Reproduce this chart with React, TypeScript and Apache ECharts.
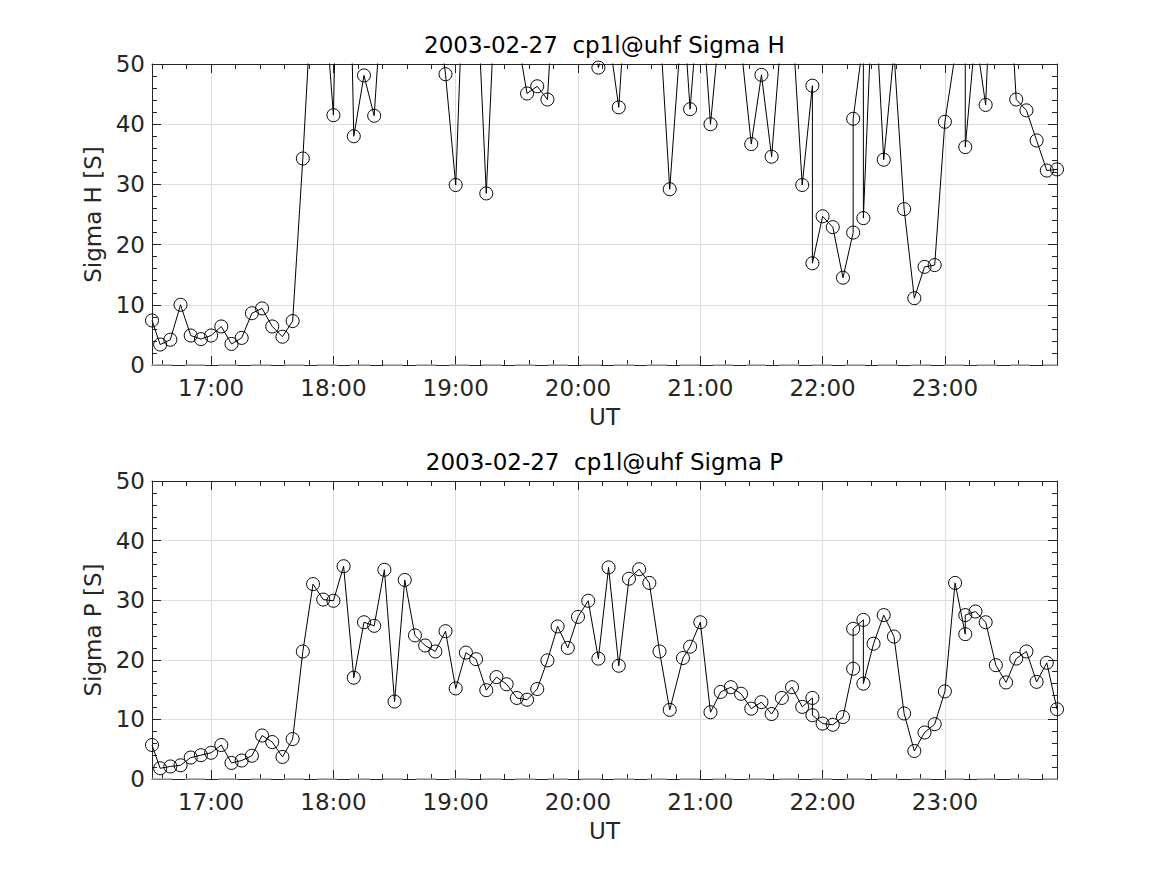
import React, { useEffect, useRef } from "react";
import * as echarts from "echarts";

// UT timestamps (duplicated stamps are repeated records)
const TIMES = [
  "16:31", "16:35", "16:40", "16:45", "16:50", "16:55", "17:00", "17:05", "17:10", "17:15",
  "17:20", "17:25", "17:30", "17:35", "17:40", "17:45", "17:50", "17:55", "18:00", "18:05",
  "18:10", "18:15", "18:20", "18:25", "18:30", "18:35", "18:40", "18:45", "18:50", "18:55",
  "19:00", "19:05", "19:10", "19:15", "19:20", "19:25", "19:30", "19:35", "19:40", "19:45",
  "19:50", "19:55", "20:00", "20:05", "20:10", "20:15", "20:20", "20:25", "20:30", "20:35",
  "20:40", "20:45", "20:51:30", "20:55", "21:00", "21:05", "21:10", "21:15", "21:20", "21:25",
  "21:30", "21:35", "21:40", "21:45", "21:50", "21:55", "21:55", "22:00", "22:05", "22:10",
  "22:15", "22:15", "22:20", "22:20", "22:25", "22:30", "22:35", "22:40", "22:45", "22:50",
  "22:55", "23:00", "23:05", "23:10", "23:10", "23:15", "23:20", "23:25", "23:30", "23:35",
  "23:40", "23:45", "23:50", "23:55",
];

const SIGMA_H = [
  7.4, 3.4, 4.2, 10.0, 4.9, 4.3, 4.9, 6.4, 3.5, 4.5,
  8.6, 9.4, 6.4, 4.7, 7.3, 34.3, 65, 64, 41.5, 120,
  38.0, 48.1, 41.4, 67, 85, 78, 95, 82, 62, 48.3,
  29.9, 76, 66, 28.5, 66, 72, 55, 45.1, 46.3, 44.1,
  74, 80, 70, 62, 49.4, 55, 42.8, 69, 75, 70,
  57.4, 29.2, 60, 42.5, 64, 40.0, 58, 62, 53, 36.7,
  48.2, 34.6, 56, 58, 29.9, 46.4, 16.9, 24.7, 22.9, 14.5,
  22.0, 40.9, 54, 24.4, 66, 34.1, 52, 25.9, 11.1, 16.3,
  16.6, 40.4, 51.5, 80, 36.2, 55, 43.2, 84, 73, 44.1,
  42.3, 37.3, 32.3, 32.5,
];

const SIGMA_P = [
  5.7, 1.8, 2.1, 2.3, 3.6, 4.0, 4.4, 5.7, 2.7, 3.1,
  3.9, 7.3, 6.2, 3.7, 6.7, 21.4, 32.7, 30.1, 29.9, 35.7,
  17.0, 26.3, 25.7, 35.1, 13.0, 33.4, 24.1, 22.4, 21.4, 24.8,
  15.2, 21.2, 20.1, 14.9, 17.1, 15.9, 13.6, 13.3, 15.1, 19.9,
  25.6, 22.0, 27.2, 29.9, 20.2, 35.5, 19.0, 33.6, 35.2, 32.9,
  21.4, 11.6, 20.3, 22.2, 26.3, 11.2, 14.6, 15.4, 14.3, 11.8,
  12.9, 10.9, 13.6, 15.4, 12.1, 13.6, 10.7, 9.3, 9.1, 10.4,
  18.5, 25.2, 26.7, 16.0, 22.7, 27.5, 23.9, 11.0, 4.7, 7.8,
  9.2, 14.7, 32.9, 24.3, 27.5, 28.1, 26.3, 19.1, 16.2, 20.2,
  21.4, 16.3, 19.5, 11.7,
];

const HOUR_TICKS = ["17:00", "18:00", "19:00", "20:00", "21:00", "22:00", "23:00"];
const MINOR_STEP_MIN = 12;
const Y_MIN = 0;
const Y_MAX = 50;
const Y_STEP = 10;
const ZERO_LEVEL = 0;
const DATE = "2003-02-27";
const TITLES = [`${DATE}  cp1l@uhf Sigma H`, `${DATE}  cp1l@uhf Sigma P`];
const Y_NAMES = ["Sigma H [S]", "Sigma P [S]"];
const X_NAME = "UT";
const PANELS = [SIGMA_H, SIGMA_P];

const FONT = "DejaVu Sans";
const AXIS_COLOR = "#262626";
const GRID_COLOR = "#dedede";
const FS = 23;

const GRIDS = [
  { left: 152, top: 64, width: 905, height: 301 },
  { left: 152, top: 481, width: 905, height: 298 },
];

function toMin(s: string): number {
  const p = s.split(":").map(Number);
  return p[0] * 60 + p[1] + (p[2] || 0) / 60;
}
function fmt(v: number): string {
  const h = Math.floor(v / 60 + 1e-9);
  const m = Math.round(v - h * 60);
  return `${h}:${String(m).padStart(2, "0")}`;
}

export default function App() {
  const ref = useRef<HTMLDivElement>(null);
  useEffect(() => {
    if (!ref.current) return;
    const chart = echarts.init(ref.current, undefined, { renderer: "svg" });
    const t = TIMES.map(toMin);
    const tMin = t[0];
    const tMax = t[t.length - 1];
    const hourVals = HOUR_TICKS.map(toMin);
    const minorVals: number[] = [];
    for (let v = hourVals[0]; v >= tMin; v -= MINOR_STEP_MIN) if (v % 60 !== 0) minorVals.push(v);
    for (let v = hourVals[0]; v <= tMax; v += MINOR_STEP_MIN) if (v % 60 !== 0) minorVals.push(v);

    const xAxis: any[] = [];
    const yAxis: any[] = [];
    const series: any[] = [];
    const axisLineOn = { show: true, onZero: false, lineStyle: { color: AXIS_COLOR, width: 1 } };
    const textBase = { fontFamily: FONT, fontSize: FS, color: AXIS_COLOR };

    GRIDS.forEach((g, gi) => {
      const base = { type: "value", gridIndex: gi, min: tMin, max: tMax };
      // bottom major
      xAxis.push({
        ...base,
        position: "bottom",
        axisLine: axisLineOn,
        axisTick: { show: true, inside: true, length: 9, customValues: hourVals, lineStyle: { color: AXIS_COLOR } },
        axisLabel: { show: true, customValues: hourVals, formatter: fmt, margin: 11, ...textBase },
        splitLine: { show: true, lineStyle: { color: GRID_COLOR, width: 1 } },
        name: X_NAME,
        nameLocation: "middle",
        nameGap: 40,
        nameTextStyle: { ...textBase },
      });
      // bottom minor
      xAxis.push({
        ...base,
        position: "bottom",
        axisLine: { show: false, onZero: false },
        axisTick: { show: true, inside: true, length: 5, customValues: minorVals, lineStyle: { color: AXIS_COLOR } },
        axisLabel: { show: false },
        splitLine: { show: false },
      });
      // top major (carries the title)
      xAxis.push({
        ...base,
        position: "top",
        axisLine: axisLineOn,
        axisTick: { show: true, inside: true, length: 9, customValues: hourVals, lineStyle: { color: AXIS_COLOR } },
        axisLabel: { show: false },
        splitLine: { show: false },
        name: TITLES[gi],
        nameLocation: "middle",
        nameGap: 8,
        nameTextStyle: { fontFamily: FONT, fontSize: FS, color: "#000" },
      });
      // top minor
      xAxis.push({
        ...base,
        position: "top",
        axisLine: { show: false, onZero: false },
        axisTick: { show: true, inside: true, length: 5, customValues: minorVals, lineStyle: { color: AXIS_COLOR } },
        axisLabel: { show: false },
        splitLine: { show: false },
      });
      const yBase = {
        type: "value",
        gridIndex: gi,
        min: Y_MIN,
        max: Y_MAX,
        interval: Y_STEP,
        axisLine: axisLineOn,
        axisTick: { show: true, inside: true, length: 9, lineStyle: { color: AXIS_COLOR } },
        minorTick: { show: true, splitNumber: 5, length: 5, lineStyle: { color: AXIS_COLOR } },
      };
      yAxis.push({
        ...yBase,
        position: "left",
        axisLabel: { show: true, margin: 7, ...textBase },
        splitLine: { show: true, lineStyle: { color: GRID_COLOR, width: 1 } },
        name: Y_NAMES[gi],
        nameLocation: "middle",
        nameGap: 43,
        nameRotate: 90,
        nameTextStyle: { ...textBase },
      });
      yAxis.push({
        ...yBase,
        position: "right",
        axisLabel: { show: false },
        splitLine: { show: false },
      });
      const vals = PANELS[gi];
      series.push({
        type: "line",
        xAxisIndex: gi * 4,
        yAxisIndex: gi * 2,
        data: t.map((x, i) => [x, vals[i]]),
        symbol: "circle",
        symbolSize: 13,
        showAllSymbol: true,
        clip: true,
        silent: true,
        lineStyle: { color: "#000", width: 1 },
        itemStyle: { color: "rgba(0,0,0,0)", borderColor: "#000", borderWidth: 1 },
        emphasis: { disabled: true },
        markLine: {
          silent: true,
          symbol: ["none", "none"],
          label: { show: false },
          lineStyle: { color: "#a6a6a6", type: [20, 13], width: 1.5 },
          data: [{ yAxis: ZERO_LEVEL }],
        },
      });
    });

    chart.setOption({
      animation: false,
      backgroundColor: "#fff",
      grid: GRIDS.map((g) => ({ ...g, containLabel: false })),
      xAxis,
      yAxis,
      series,
    });
    return () => chart.dispose();
  }, []);
  return (
    <div
      ref={ref}
      style={{ position: "fixed", left: 0, top: 0, width: 1167, height: 875, background: "#fff" }}
    />
  );
}
